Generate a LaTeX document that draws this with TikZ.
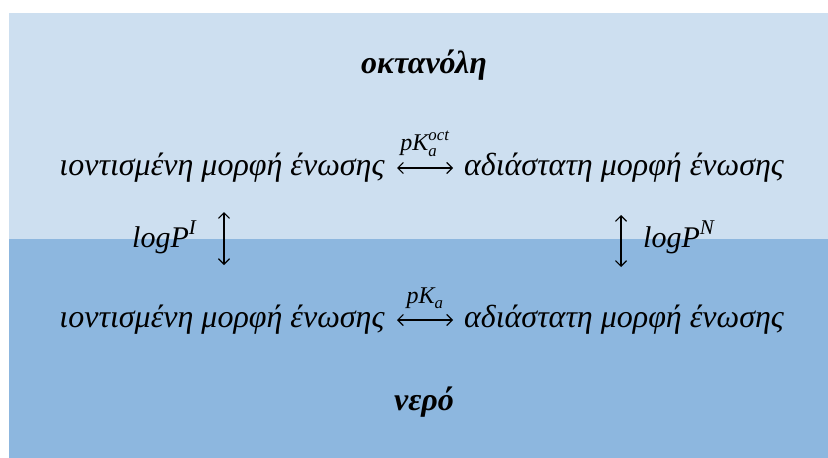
\documentclass[tikz,border=0pt]{standalone}
\usepackage{amsmath}
\usepackage{fontspec}
\setmainfont{Liberation Serif}
\usetikzlibrary{arrows.meta}
\definecolor{oct}{RGB}{205,223,240}
\definecolor{wat}{RGB}{141,183,223}
\newcommand{\ti}[1]{\text{\itshape #1}}
\begin{document}
\begin{tikzpicture}[x=1pt,y=-1pt,
  txt/.style={inner sep=0pt,font=\fontsize{32}{38}\selectfont\itshape},
  ttl/.style={inner sep=0pt,font=\fontsize{32}{38}\selectfont\bfseries\itshape},
  lbl/.style={inner sep=0pt,font=\fontsize{30}{36}\selectfont},
  slbl/.style={inner sep=0pt,font=\fontsize{24}{29}\selectfont},
  arr/.style={{Straight Barb[length=5.5pt,width=11pt,line width=1.2pt]}-{Straight Barb[length=5.5pt,width=11pt,line width=1.2pt]},line width=1.2pt}]
\useasboundingbox (0,0) rectangle (828,458);
\fill[white] (0,0) rectangle (828,458);
\fill[oct] (9,13) rectangle (828,239);
\fill[wat] (9,239) rectangle (828,458);
% titles
\node[ttl,anchor=base] (toct) at (424,73) {οκτανόλη};
\node[ttl,anchor=base] (twat) at (424,410) {νερό};
% top row
\node[txt,anchor=base] (lt) at (222,175) {ιοντισμένη μορφή ένωσης};
\node[txt,anchor=base] (rt) at (624,175) {αδιάστατη μορφή ένωσης};
\coordinate (a1) at (397,168);
\coordinate (a2) at (453,168);
\draw[arr] (a1) -- (a2);
\node[slbl,anchor=base] (kt) at (425,150) {$\ti{pK}_{\ti{a}}^{\ti{oct}}$};
% bottom row
\node[txt,anchor=base] (lb) at (222,327) {ιοντισμένη μορφή ένωσης};
\node[txt,anchor=base] (rb) at (624,327) {αδιάστατη μορφή ένωσης};
\coordinate (b1) at (397,320);
\coordinate (b2) at (453,320);
\draw[arr] (b1) -- (b2);
\node[slbl,anchor=base] (kb) at (425,303) {$\ti{pK}_{\ti{a}}$};
% vertical
\coordinate (v1) at (224,212);
\coordinate (v2) at (224,265);
\draw[arr] (v1) -- (v2);
\node[lbl,anchor=base west] (pi) at (132,247) {$\ti{logP}^{\ti{I}}$};
\coordinate (w1) at (621,215);
\coordinate (w2) at (621,267);
\draw[arr] (w1) -- (w2);
\node[lbl,anchor=base west] (pn) at (643,247) {$\ti{logP}^{\ti{N}}$};
\end{tikzpicture}
\end{document}
